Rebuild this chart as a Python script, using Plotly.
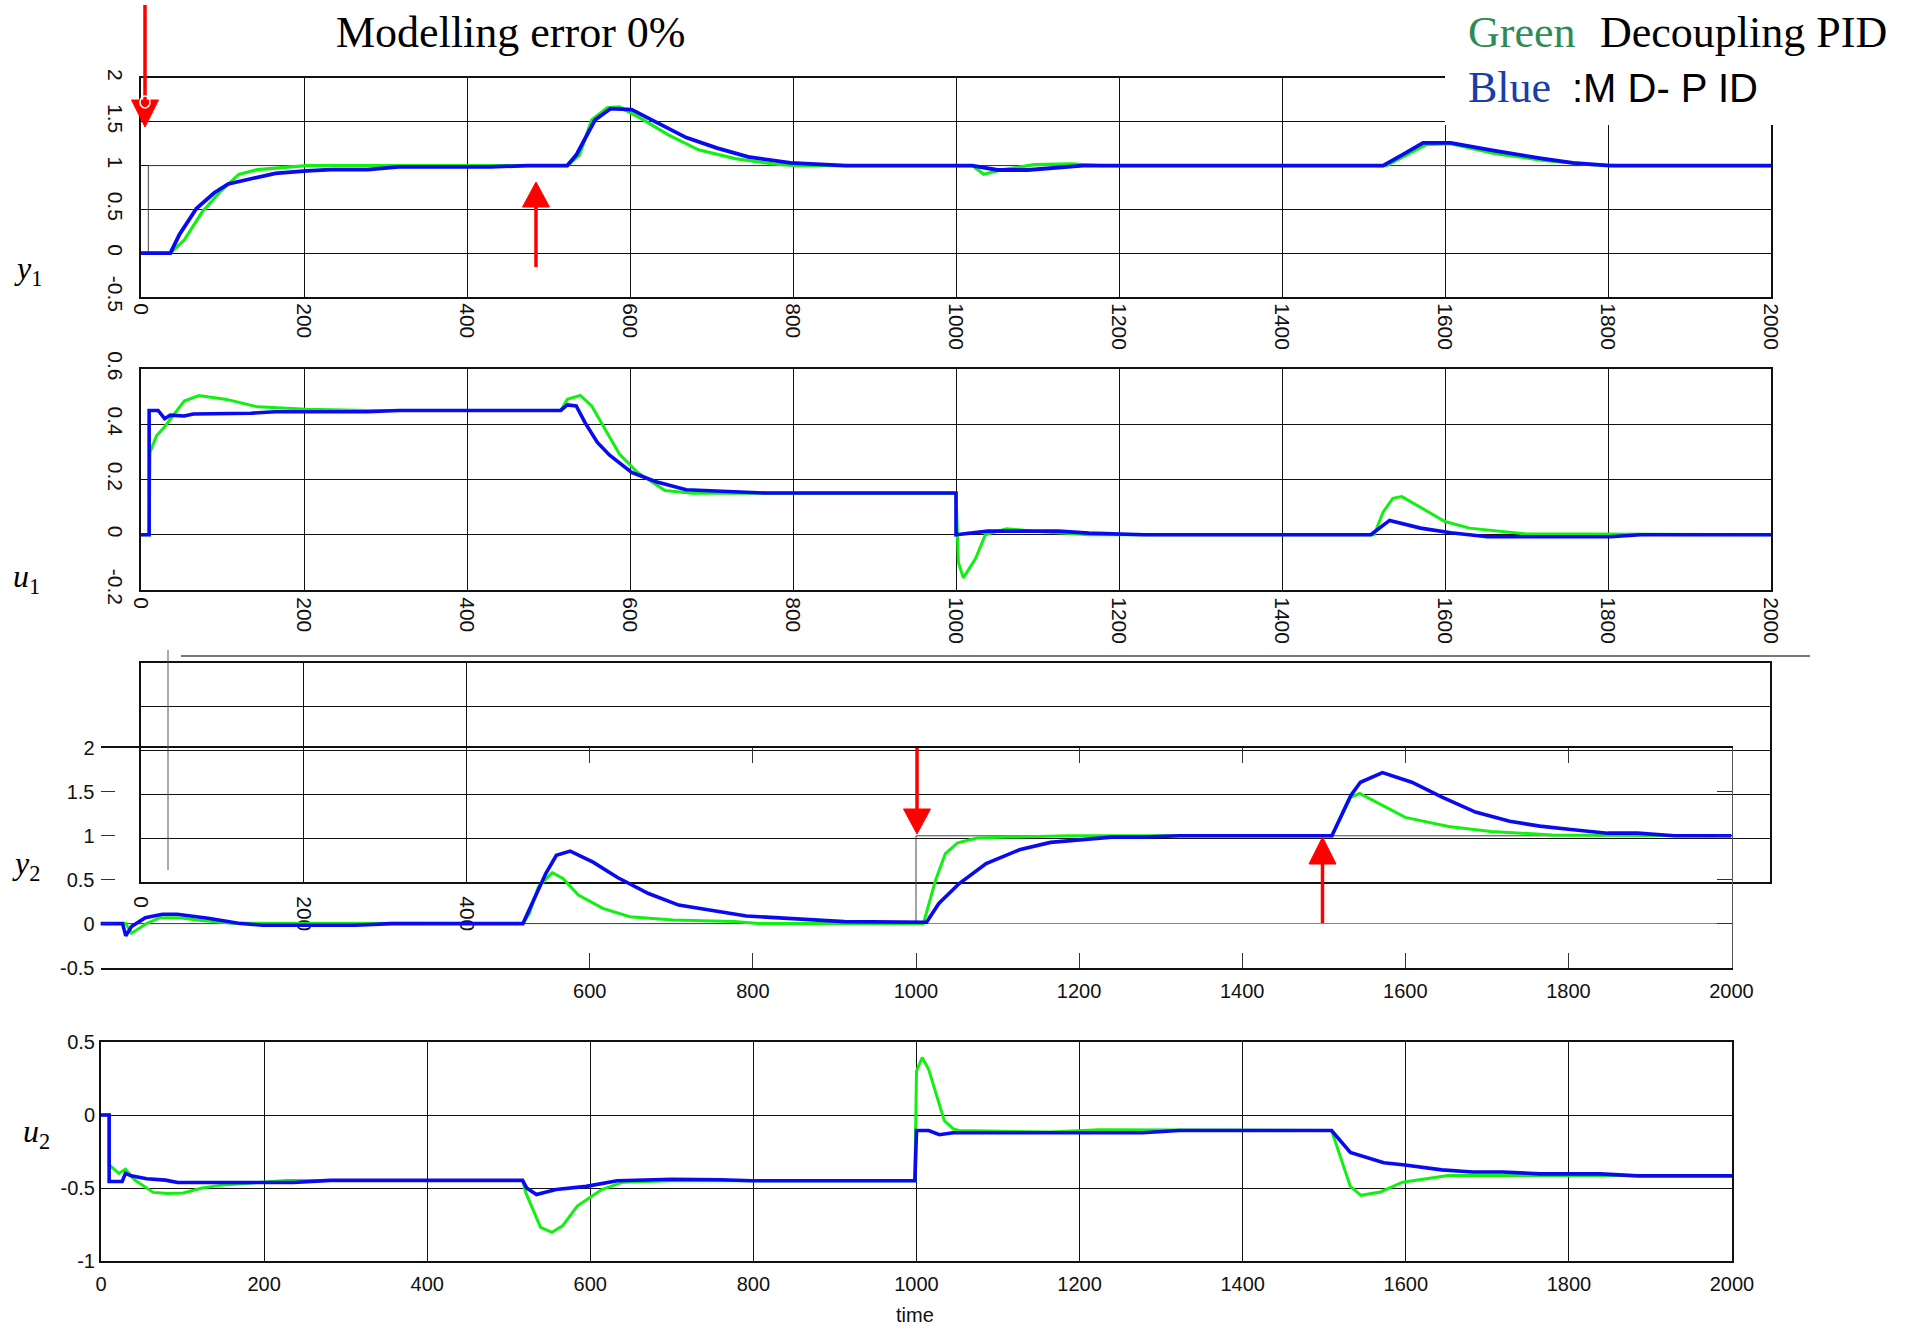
import plotly.graph_objects as go

W, H = 1921, 1327

# ---------------- data ----------------
# panel 1 : y1
t_y1_b = [0, 36, 47, 68, 90, 107, 135, 165, 203, 233, 278, 316, 429, 474, 523, 534, 557, 576, 602, 639,
          669, 707, 745, 797, 865, 1005, 1020, 1051, 1088, 1156, 1524, 1547, 1573, 1607, 1660, 1720, 1757, 1802, 2000]
y1_b = [0, 0, 0.21, 0.51, 0.69, 0.79, 0.85, 0.91, 0.94, 0.955, 0.955, 0.985, 0.985, 1.0, 1.0, 1.12, 1.52, 1.65, 1.64, 1.46,
        1.32, 1.20, 1.10, 1.03, 1.0, 1.0, 1.0, 0.95, 0.95, 1.0, 1.0, 1.12, 1.26, 1.26, 1.17, 1.08, 1.03, 1.0, 1.0]
t_y1_g = [0, 36, 53, 75, 98, 120, 143, 173, 203, 523, 538, 553, 572, 587, 617, 647, 684, 729, 775, 805,
          1020, 1034, 1058, 1096, 1141, 1178, 1528, 1577, 1607, 1660, 1720, 1780, 1810, 2000]
y1_g = [0, 0, 0.15, 0.47, 0.71, 0.9, 0.955, 0.98, 1.0, 1.0, 1.12, 1.52, 1.66, 1.67, 1.52, 1.35, 1.18, 1.08, 1.02, 1.0,
        1.0, 0.9, 0.955, 1.01, 1.02, 1.0, 1.0, 1.24, 1.25, 1.14, 1.06, 1.01, 1.0, 1.0]
t_r1 = [0, 9, 9, 2000]
r1 = [0, 0, 1, 1]

# panel 2 : u1
t_u1_b = [0, 10, 10, 21, 29, 36, 53, 64, 135, 165, 278, 316, 515, 523, 534, 545, 560, 575, 602, 632,
          669, 729, 767, 1000, 1000, 1039, 1126, 1163, 1231, 1509, 1532, 1570, 1607, 1652, 1803, 1840, 2000]
u1_b = [0, 0, 0.45, 0.45, 0.42, 0.433, 0.43, 0.437, 0.44, 0.445, 0.445, 0.45, 0.45, 0.47, 0.466, 0.405, 0.334, 0.288, 0.226, 0.192,
        0.163, 0.154, 0.151, 0.151, 0.0, 0.013, 0.013, 0.006, 0, 0, 0.052, 0.024, 0.007, -0.007, -0.007, 0, 0]
t_u1_g = [0, 10, 11, 19, 29, 53, 71, 105, 143, 203, 278, 515, 523, 539, 553, 568, 587, 609, 643, 677,
          1000, 1003, 1009, 1024, 1036, 1062, 1096, 1163, 1513, 1524, 1536, 1547, 1600, 1630, 1697, 2000]
u1_g = [0, 0, 0.298, 0.358, 0.391, 0.484, 0.504, 0.49, 0.463, 0.454, 0.45, 0.45, 0.49, 0.504, 0.466, 0.391, 0.292, 0.226, 0.16, 0.15,
        0.15, -0.1, -0.156, -0.086, 0, 0.022, 0.013, 0, 0, 0.082, 0.132, 0.138, 0.048, 0.024, 0.004, 0]

# panel 3 : y2
t_y2_b = [0, 27, 31, 38, 55, 76, 94, 132, 169, 199, 312, 357, 518, 529, 546, 559, 576, 604, 634, 672,
          709, 792, 912, 1013, 1028, 1053, 1086, 1128, 1165, 1240, 1278, 1323, 1510, 1533, 1545, 1572, 1608, 1645, 1686, 1728,
          1765, 1803, 1848, 1885, 1930, 2000]
y2_b = [0, 0, -0.14, -0.034, 0.068, 0.106, 0.106, 0.06, 0.004, -0.019, -0.019, 0, 0, 0.23, 0.57, 0.777, 0.826, 0.70, 0.525, 0.343,
        0.211, 0.087, 0.023, 0.015, 0.23, 0.456, 0.683, 0.845, 0.925, 0.985, 0.985, 1.0, 1.0, 1.457, 1.61, 1.72, 1.61, 1.44, 1.27, 1.166,
        1.11, 1.072, 1.03, 1.03, 1.0, 1.0]
t_y2_g = [0, 31, 38, 57, 73, 94, 124, 162, 518, 526, 537, 554, 567, 586, 616, 649, 702, 777, 807, 1009,
          1024, 1036, 1051, 1075, 1113, 1188, 1510, 1533, 1544, 1600, 1653, 1705, 1780, 2000]
y2_g = [0, 0, -0.11, 0.004, 0.068, 0.068, 0.034, 0.004, 0, 0.117, 0.419, 0.58, 0.513, 0.325, 0.174, 0.079, 0.042, 0.023, 0, 0,
        0.494, 0.796, 0.92, 0.974, 0.985, 1.0, 1.0, 1.437, 1.483, 1.21, 1.105, 1.05, 1.01, 1.0]
t_r2 = [0, 1000, 1000, 2000]
r2 = [0, 0, 1, 1]

# panel 4 : u2
t_u2_b = [0, 10, 10, 26, 30, 37, 56, 79, 94, 236, 281, 517, 522, 534, 558, 595, 633, 700, 760, 798,
          998, 1000, 1015, 1028, 1045, 1277, 1322, 1509, 1532, 1573, 1599, 1644, 1682, 1719, 1764, 1839, 1884, 2000]
u2_b = [0, 0, -0.455, -0.455, -0.40, -0.417, -0.437, -0.446, -0.462, -0.462, -0.448, -0.448, -0.5, -0.545, -0.51, -0.489, -0.45, -0.44, -0.444, -0.45,
        -0.45, -0.106, -0.106, -0.135, -0.122, -0.122, -0.106, -0.106, -0.257, -0.327, -0.342, -0.376, -0.39, -0.39, -0.403, -0.403, -0.417, -0.417]
t_u2_g = [0, 10, 10, 22, 30, 41, 64, 82, 101, 124, 146, 191, 228, 517, 521, 539, 553, 566, 584, 614,
          640, 700, 998, 1000, 1007, 1015, 1034, 1045, 1052, 1164, 1224, 1509, 1532, 1545, 1569, 1596, 1652, 2000]
u2_g = [0, 0, -0.342, -0.40, -0.372, -0.444, -0.53, -0.538, -0.534, -0.5, -0.482, -0.466, -0.448, -0.448, -0.534, -0.77, -0.804, -0.759, -0.624, -0.511,
        -0.46, -0.45, -0.45, 0.3, 0.394, 0.311, -0.038, -0.095, -0.106, -0.117, -0.101, -0.106, -0.489, -0.55, -0.527, -0.46, -0.414, -0.414]

x_ticks = [0, 200, 400, 600, 800, 1000, 1200, 1400, 1600, 1800, 2000]
y1_tickvals = [-0.5, 0, 0.5, 1, 1.5, 2]
y1_ticktext = ["-0.5", "0", "0.5", "1", "1.5", "2"]
u1_tickvals = [-0.2, 0, 0.2, 0.4, 0.6]
u1_ticktext = ["-0.2", "0", "0.2", "0.4", "0.6"]
y2_tickvals = [-0.5, 0, 0.5, 1, 1.5, 2]
y2_ticktext = ["-0.5", "0", "0.5", "1", "1.5", "2"]
u2_tickvals = [-1, -0.5, 0, 0.5]
u2_ticktext = ["-1", "-0.5", "0", "0.5"]

# ---------------- styling ----------------
GREEN = "#12f012"
BLUE = "#0a0af0"
RED = "#ff0000"
SANS = "Liberation Sans, Arial, sans-serif"
SERIF = "Liberation Serif, Times New Roman, serif"


def dx(px):
    return px / W


def dy(py):
    return 1 - py / H


fig = go.Figure()


def line(x, y, color, width, xa, ya):
    fig.add_trace(go.Scatter(x=x, y=y, mode="lines", line=dict(color=color, width=width),
                             xaxis=xa, yaxis=ya, showlegend=False, hoverinfo="skip"))


# panel 1
line(t_r1, r1, "#444", 1, "x", "y")
line(t_y1_g, y1_g, GREEN, 3.2, "x", "y")
line(t_y1_b, y1_b, BLUE, 3.8, "x", "y")
# panel 2
line(t_u1_g, u1_g, GREEN, 3, "x2", "y2")
line(t_u1_b, u1_b, BLUE, 3.6, "x2", "y2")
# panel 3 leftover frame (no data)
fig.add_trace(go.Scatter(x=[None], y=[None], xaxis="x3", yaxis="y3", showlegend=False))
# panel 3 real plot
line(t_r2, r2, "#444", 1, "x4", "y4")
line(t_y2_g, y2_g, GREEN, 3, "x4", "y4")
line(t_y2_b, y2_b, BLUE, 3.6, "x4", "y4")
fig.add_trace(go.Scatter(x=[None], y=[None], xaxis="x4", yaxis="y6", showlegend=False))
# panel 4
line(t_u2_g, u2_g, GREEN, 3, "x5", "y5")
line(t_u2_b, u2_b, BLUE, 3.6, "x5", "y5")

grid = dict(showgrid=True, gridcolor="#111", gridwidth=1, showline=True, linecolor="#111",
            linewidth=2, mirror=True, zeroline=False, ticks="", automargin=False)
rot_font = dict(family=SANS, size=21, color="#111")
hor_font = dict(family=SANS, size=20, color="#111")

fig.update_layout(
    autosize=True, margin=dict(l=0, r=0, t=0, b=0, pad=0, autoexpand=False),
    paper_bgcolor="white", plot_bgcolor="rgba(0,0,0,0)",
    showlegend=False,
    xaxis=dict(domain=[dx(141), dx(1771)], range=[0, 2000], anchor="y", tickvals=x_ticks,
               tickangle=90, tickfont=rot_font, ticklabelstandoff=0, **grid),
    yaxis=dict(domain=[dy(297), dy(78)], range=[-0.5, 2], anchor="x", tickvals=y1_tickvals, ticktext=y1_ticktext,
               tickangle=90, tickfont=rot_font, ticklabelstandoff=6, **grid),
    xaxis2=dict(domain=[dx(141), dx(1771)], range=[0, 2000], anchor="y2", tickvals=x_ticks,
                tickangle=90, tickfont=rot_font, ticklabelstandoff=1, **grid),
    yaxis2=dict(domain=[dy(590), dy(369)], range=[-0.2, 0.6], anchor="x2", tickvals=u1_tickvals, ticktext=u1_ticktext,
                tickangle=90, tickfont=rot_font, ticklabelstandoff=6, **grid),
    xaxis3=dict(domain=[dx(141), dx(1770)], range=[0, 2000], anchor="y3", tickvals=[0, 200, 400],
                ticktext=["0", "200", "400"], tickangle=90, tickfont=rot_font, ticklabelstandoff=8, **grid),
    yaxis3=dict(domain=[dy(882), dy(663)], range=[0, 5], anchor="x3", dtick=1, showticklabels=False, **grid),
    xaxis4=dict(domain=[dx(100.5), dx(1731.5)], range=[0, 2000], anchor="y4", automargin=False,
                tickvals=x_ticks[3:], showgrid=False, zeroline=False, showline=True, linecolor="#111",
                linewidth=1.5, mirror="ticks", ticks="inside", ticklen=15, tickcolor="#333", tickwidth=1,
                tickfont=hor_font, ticklabelstandoff=5),
    yaxis4=dict(domain=[dy(967.5), dy(748)], range=[-0.5, 2], anchor="x4", tickvals=y2_tickvals, automargin=False,
                ticktext=y2_ticktext, showgrid=False, showline=False, zeroline=True, zerolinecolor="#888",
                zerolinewidth=1, ticks="inside", ticklen=14, tickcolor="#333", tickwidth=1, tickfont=hor_font,
                ticklabelstandoff=5),
    yaxis6=dict(overlaying="y4", side="right", anchor="x4", range=[-0.5, 2], tickvals=y2_tickvals, automargin=False,
                showticklabels=False, showgrid=False, zeroline=False, showline=True, linecolor="#555",
                linewidth=1, ticks="inside", ticklen=15, tickcolor="#333"),
    xaxis5=dict(domain=[dx(101), dx(1732)], range=[0, 2000], anchor="y5", tickvals=x_ticks,
                tickfont=hor_font, ticklabelstandoff=4, **grid),
    yaxis5=dict(domain=[dy(1261), dy(1042)], range=[-1, 0.5], anchor="x5", tickvals=u2_tickvals, ticktext=u2_ticktext,
                tickfont=hor_font, **grid),
)

shapes = []
# white patch behind the legend text (hides corner of top panel)
shapes.append(dict(type="rect", xref="paper", yref="paper", x0=dx(1445), x1=dx(1800), y0=dy(125), y1=dy(65),
                   fillcolor="white", line=dict(width=0), layer="above"))
# stray lines between panels 2 and 3
shapes.append(dict(type="line", xref="paper", yref="paper", x0=dx(181), x1=dx(1810), y0=dy(656), y1=dy(656),
                   line=dict(color="#777", width=2), layer="above"))
shapes.append(dict(type="line", xref="paper", yref="paper", x0=dx(168), x1=dx(168), y0=dy(650), y1=dy(870),
                   line=dict(color="#555", width=1), layer="above"))


def arrow(x, y_tail, y_base, y_tip, half=13.5):
    shapes.append(dict(type="line", xref="paper", yref="paper", x0=dx(x), x1=dx(x), y0=dy(y_tail), y1=dy(y_base),
                       line=dict(color=RED, width=3.5), layer="above"))
    path = "M {} {} L {} {} L {} {} Z".format(dx(x - half), dy(y_base), dx(x + half), dy(y_base), dx(x), dy(y_tip))
    shapes.append(dict(type="path", xref="paper", yref="paper", path=path, fillcolor=RED,
                       line=dict(color=RED, width=1), layer="above"))


arrow(145, 5, 100, 127)
arrow(536, 267, 207, 182)
arrow(917, 748, 809, 834)
arrow(1322.5, 923, 864, 837)
# small white ring on the first arrow
shapes.append(dict(type="circle", xref="paper", yref="paper", x0=dx(140), x1=dx(150), y0=dy(108), y1=dy(96),
                   line=dict(color="white", width=1.5), layer="above"))
fig.update_layout(shapes=shapes)

ann = []


def text(t, x, y, font, xanchor="center"):
    ann.append(dict(text=t, x=dx(x), y=dy(y), xref="paper", yref="paper", showarrow=False,
                    xanchor=xanchor, yanchor="middle", font=font))


text("Modelling error 0%", 510, 32, dict(family=SERIF, size=44, color="black"))
text("Green", 1466, 33, dict(family=SERIF, size=44, color="#2e8b57"), "left")
text("Decoupling PID", 1598, 33, dict(family=SERIF, size=44, color="black"), "left")
text("Blue", 1466, 88, dict(family=SERIF, size=44, color="#1a3ea8"), "left")
text(":M D- P ID", 1570, 88, dict(family=SANS, size=40, color="black"), "left")
lab = dict(family=SERIF, size=32, color="black")
text("<i>y</i><sub>1</sub>", 28, 270, lab)
text("<i>u</i><sub>1</sub>", 26, 578, lab)
text("<i>y</i><sub>2</sub>", 26, 866, lab)
text("<i>u</i><sub>2</sub>", 36, 1133, lab)
text("time", 915, 1315, hor_font)
fig.update_layout(annotations=ann)

fig.write_html(
    "out.html",
    default_width="100vw",
    default_height="100vh",
    config={"displayModeBar": False},
    post_script="document.body.style.margin='0';document.documentElement.style.overflow='hidden';",
)
